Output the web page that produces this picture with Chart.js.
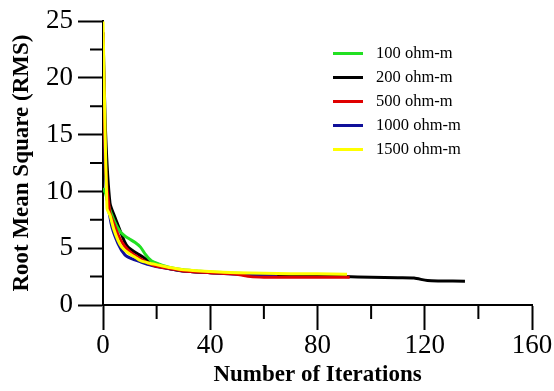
<!DOCTYPE html>
<html>
<head>
<meta charset="utf-8">
<script src="https://cdn.jsdelivr.net/npm/chart.js@4.4.1/dist/chart.umd.min.js"></script>
<style>
  body { margin: 0; background: #fff; }
  #wrap { position: relative; width: 554px; height: 391px; }
  #legend { position: absolute; left: 333px; top: 41px; font-family: "Liberation Serif", serif; font-size: 16.5px; color: #000; }
  #legend .item { position: relative; height: 24px; line-height: 24px; }
  #legend .line { position: absolute; left: 0; top: 11px; width: 30px; height: 3px; }
  #legend .label { position: absolute; left: 43px; top: 0; white-space: nowrap; }
</style>
</head>
<body>
<div id="wrap">
  <canvas id="chart" width="554" height="391"></canvas>
  <div id="legend"></div>
</div>
<script>
// series names and colours
const seriesNames = ['100 ohm-m', '200 ohm-m', '500 ohm-m', '1000 ohm-m', '1500 ohm-m'];
const seriesColors = ['#22e022', '#000000', '#e00000', '#10109a', '#ffff00'];

// iteration numbers and RMS values for every series
const iter100 = [0, 1, 2, 4, 6, 8, 10, 12, 14, 16, 18, 21, 25, 30, 35, 40, 50, 60];
const rms100 = [10.3, 9.8, 8.8, 7.5, 6.6, 6.1, 5.8, 5.5, 5.1, 4.4, 3.9, 3.6, 3.3, 3.1, 3.0, 2.9, 2.8, 2.7];

const iter200 = [0, 1, 2.6, 4.5, 6.3, 8, 9.3, 11, 13, 15, 17.5, 20, 25, 30, 40, 50, 60, 70, 80, 90, 100, 110, 116, 121, 126, 135];
const rms200 = [24, 15, 9.0, 7.7, 6.6, 5.6, 5.1, 4.8, 4.5, 4.2, 3.8, 3.5, 3.2, 3.0, 2.85, 2.75, 2.65, 2.6, 2.55, 2.5, 2.45, 2.4, 2.37, 2.15, 2.12, 2.1];

const iter500 = [0, 1, 2.5, 4, 6, 8, 10, 13, 16, 20, 25, 30, 40, 50, 55, 60, 70, 80, 92];
const rms500 = [24, 12, 8.2, 7.2, 6.0, 5.2, 4.7, 4.2, 3.8, 3.4, 3.2, 3.0, 2.85, 2.7, 2.5, 2.45, 2.45, 2.45, 2.45];

const iter1000 = [0, 1, 3, 5.6, 8.2, 10.4, 14, 18, 22, 30, 40, 50, 60, 65];
const rms1000 = [24, 11, 7.2, 5.4, 4.4, 4.1, 3.8, 3.5, 3.3, 3.0, 2.85, 2.7, 2.6, 2.6];

const iter1500 = [0, 1.5, 2.6, 4, 5.6, 7, 9.3, 12, 14, 17, 21, 25, 30, 40, 50, 60, 70, 80, 91];
const rms1500 = [25, 8.5, 7.9, 6.7, 5.7, 5.1, 4.6, 4.2, 3.9, 3.7, 3.5, 3.3, 3.1, 2.95, 2.85, 2.8, 2.75, 2.75, 2.7];

// axis ticks
const xMajorTicks = [0, 40, 80, 120, 160];
const xMinorTicks = [20, 60, 100, 140];
const yMajorTicks = [0, 5, 10, 15, 20, 25];
const yMinorTicks = [2.5, 7.5, 12.5, 17.5, 22.5];

const iters = [iter100, iter200, iter500, iter1000, iter1500];
const rmss = [rms100, rms200, rms500, rms1000, rms1500];
const drawOrder = [4, 5, 2, 3, 1]; // yellow on top, black at the bottom

const datasets = seriesNames.map((name, i) => ({
    label: name,
    data: iters[i].map((x, j) => ({ x: x, y: rmss[i][j] })),
    borderColor: seriesColors[i],
    borderWidth: 3,
    pointRadius: 0,
    tension: 0.25,
    fill: false,
    order: drawOrder[i]
}));

// short minor ticks on both axes
const minorTicks = {
    id: 'minorTicks',
    afterDraw(chart) {
        const ctx = chart.ctx;
        const xs = chart.scales.x, ys = chart.scales.y;
        ctx.save();
        ctx.strokeStyle = '#000';
        ctx.lineWidth = 2;
        ctx.beginPath();
        xMinorTicks.forEach(v => {
            const px = xs.getPixelForValue(v);
            ctx.moveTo(px, ys.bottom);
            ctx.lineTo(px, ys.bottom + 14);
        });
        yMinorTicks.forEach(v => {
            const py = ys.getPixelForValue(v);
            ctx.moveTo(xs.left - 13, py);
            ctx.lineTo(xs.left, py);
        });
        ctx.stroke();
        ctx.restore();
    }
};

const serif = '"Liberation Serif", "Times New Roman", serif';

new Chart(document.getElementById('chart').getContext('2d'), {
    type: 'line',
    data: { datasets: datasets },
    options: {
        responsive: false,
        animation: false,
        devicePixelRatio: 1,
        layout: { padding: { top: 20, right: 22, left: 0, bottom: 0 } },
        plugins: { legend: { display: false }, tooltip: { enabled: false } },
        scales: {
            x: {
                type: 'linear',
                min: 0,
                max: 160,
                afterBuildTicks: s => { s.ticks = xMajorTicks.map(v => ({ value: v })); },
                afterFit: s => { s.height = 86; },
                ticks: { font: { family: serif, size: 27 }, color: '#000', padding: 0, maxRotation: 0 },
                grid: { drawOnChartArea: false, tickLength: 25, tickWidth: 2, tickColor: '#000' },
                border: { color: '#000', width: 2 },
                title: { display: true, text: 'Number of Iterations', color: '#000',
                         font: { family: serif, size: 23, weight: 'bold' }, padding: { top: 0, bottom: 2 } }
            },
            y: {
                min: 0,
                max: 25,
                afterBuildTicks: s => { s.ticks = yMajorTicks.map(v => ({ value: v })); },
                afterFit: s => { s.width = 103; },
                ticks: { font: { family: serif, size: 27 }, color: '#000', padding: 5 },
                grid: { drawOnChartArea: false, tickLength: 25, tickWidth: 2, tickColor: '#000' },
                border: { color: '#000', width: 2 },
                title: { display: true, text: 'Root Mean Square (RMS)', color: '#000',
                         font: { family: serif, size: 23, weight: 'bold' }, padding: { top: 8, bottom: 0 } }
            }
        }
    },
    plugins: [minorTicks]
});

// legend as html, built from the series arrays
const legend = document.getElementById('legend');
seriesNames.forEach((name, i) => {
    const item = document.createElement('div');
    item.className = 'item';
    const line = document.createElement('div');
    line.className = 'line';
    line.style.background = seriesColors[i];
    const label = document.createElement('span');
    label.className = 'label';
    label.textContent = name;
    item.appendChild(line);
    item.appendChild(label);
    legend.appendChild(item);
});
</script>
</body>
</html>
